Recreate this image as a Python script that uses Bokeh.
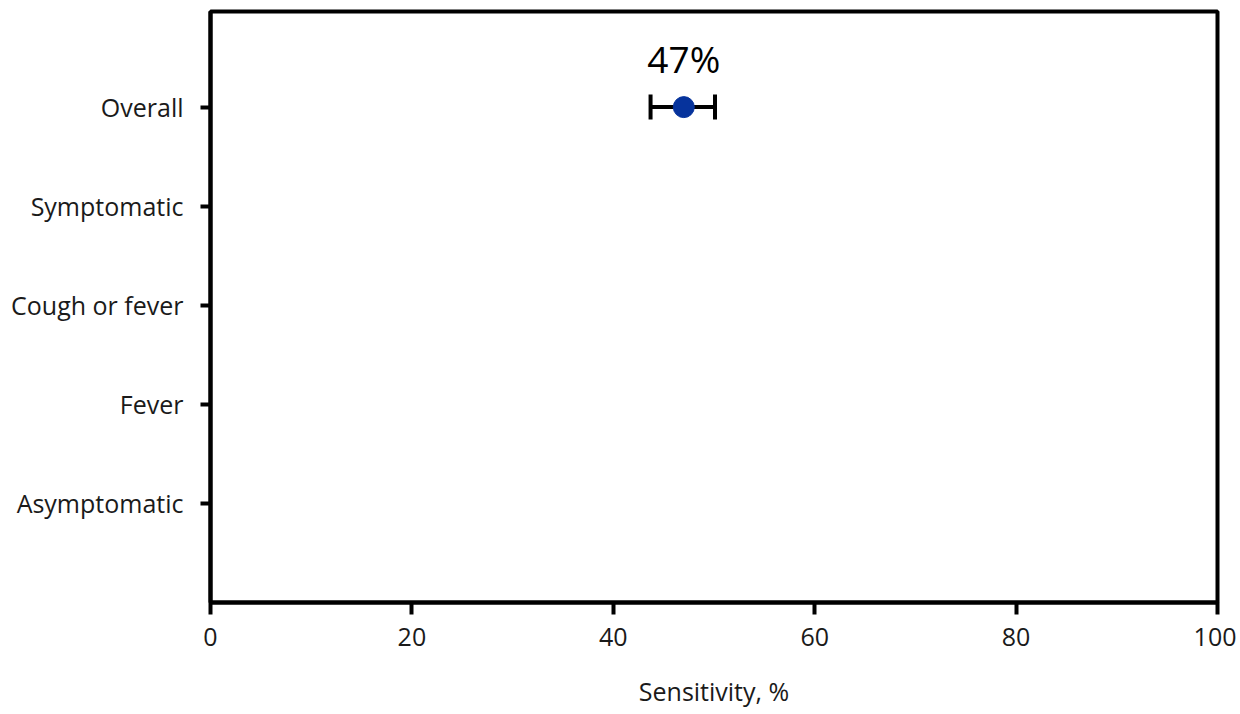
from bokeh.plotting import figure
from bokeh.models import ColumnDataSource, Range1d, FixedTicker, Whisker, TeeHead
from bokeh.core.properties import value
from bokeh.embed import file_html
from bokeh.resources import INLINE

categories = ["Overall", "Symptomatic", "Cough or fever", "Fever", "Asymptomatic"]
point_cats = ["Overall"]
sensitivity = [47.0]
ci_low = [43.7]
ci_high = [50.1]
point_labels = ["47%"]
x_ticks = [0, 20, 40, 60, 80, 100]

n = len(categories)
ypos = {c: n - i for i, c in enumerate(categories)}

src = ColumnDataSource(dict(
    x=sensitivity,
    y=[ypos[c] for c in point_cats],
    lo=ci_low,
    hi=ci_high,
    lab=point_labels,
))

FONT = "Open Sans"
TXT = "#1a1a1a"

p = figure(width=1236, height=710, output_backend="svg", toolbar_location=None,
           x_range=Range1d(0, 100), y_range=Range1d(0, n + 0.965),
           min_border_left=210, min_border_right=19, min_border_top=11, min_border_bottom=105)

p.xgrid.visible = False
p.ygrid.visible = False
p.outline_line_color = "black"
p.outline_line_width = 4
p.background_fill_color = "white"
p.border_fill_color = "white"

p.xaxis.ticker = FixedTicker(ticks=x_ticks)
p.xaxis.axis_label = "Sensitivity, %"
p.yaxis.ticker = FixedTicker(ticks=[ypos[c] for c in categories])
p.yaxis.major_label_overrides = {ypos[c]: c for c in categories}

for ax in (p.xaxis, p.yaxis):
    ax.axis_line_width = 4
    ax.axis_line_color = "black"
    ax.major_tick_line_width = 4
    ax.major_tick_line_color = "black"
    ax.major_tick_in = 0
    ax.minor_tick_line_color = None
    ax.major_label_text_font = FONT
    ax.major_label_text_font_size = "25px"
    ax.major_label_text_color = TXT
    ax.axis_label_text_font = FONT
    ax.axis_label_text_font_size = "25px"
    ax.axis_label_text_font_style = "normal"
    ax.axis_label_text_color = TXT

p.xaxis.major_tick_out = 12
p.xaxis.major_label_standoff = 13
p.xaxis.axis_label_standoff = 25
p.yaxis.major_tick_out = 10
p.yaxis.major_label_standoff = 17

w = Whisker(source=src, base="y", lower="lo", upper="hi", dimension="width",
            line_width=4, line_color="black",
            lower_head=TeeHead(size=25, line_width=4, line_color="black"),
            upper_head=TeeHead(size=25, line_width=4, line_color="black"))
p.add_layout(w)

p.scatter("x", "y", source=src, size=21, fill_color="#06339c", line_color="#06339c")

p.text("x", "y", text="lab", source=src, text_align="center", text_baseline="alphabetic",
       y_offset=-49, text_font=value(FONT), text_font_size="37px", text_color="black")

open("out.html", "w").write(file_html(p, INLINE))
